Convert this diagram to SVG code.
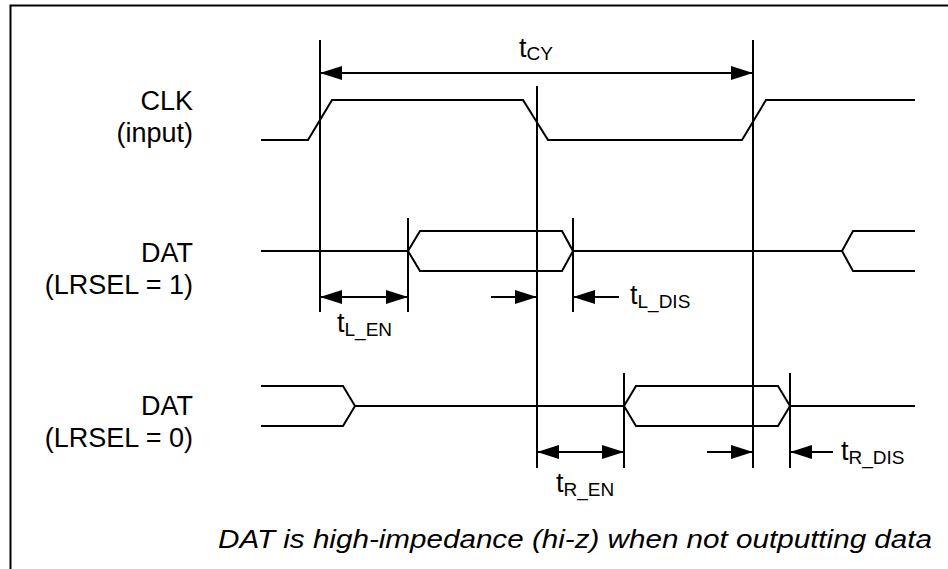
<svg xmlns="http://www.w3.org/2000/svg" width="948" height="569" viewBox="0 0 948 569">
<style>
.w{fill:none;stroke:#000;stroke-width:2;stroke-linejoin:miter}
.v{fill:none;stroke:#000;stroke-width:2}
.a{fill:none;stroke:#000;stroke-width:2}
.lbl{font-family:"Liberation Sans",Arial,sans-serif;font-size:27px;fill:#000;text-anchor:end}
.t{font-family:"Liberation Sans",Arial,sans-serif;font-size:27px;fill:#000}
.s{font-size:19px}
.note{font-family:"Liberation Sans",Arial,sans-serif;font-size:25px;font-style:italic;fill:#000}
</style>
<defs>
<marker id="ah" viewBox="0 0 22 14" refX="22" refY="7" markerWidth="22" markerHeight="14" markerUnits="userSpaceOnUse" orient="auto-start-reverse">
<path d="M0,0 L22,7 L0,14 z" fill="#000"/>
</marker>
</defs>
<rect width="948" height="569" fill="#fff"/>
<path class="v" d="M10.5,569 L10.5,5.5 L948,5.5"/>

<g id="labels">
<g id="clk-label"><text class="lbl" x="193" y="110">CLK</text><text class="lbl" x="193" y="142">(input)</text></g>
<g id="dat1-label"><text class="lbl" x="193" y="262">DAT</text><text class="lbl" x="193" y="294">(LRSEL = 1)</text></g>
<g id="dat0-label"><text class="lbl" x="193" y="415">DAT</text><text class="lbl" x="193" y="447">(LRSEL = 0)</text></g>
</g>

<g id="clk">
<path class="w" d="M261,140 L308,140 L332,100 L523,100 L548,140 L742,140 L766,100 L915,100"/>
</g>
<g id="dat1">
<path class="w" d="M261,251 L408,251 L420,231 L562,231 L573,251 L562,271 L420,271 L408,251 M573,251 L842,251 L853,231 L915,231 M842,251 L853,271 L915,271"/>
</g>
<g id="dat0">
<path class="w" d="M261,386 L343,386 L355,406 L343,426 L261,426 M355,406 L624,406 L636,386 L778,386 L790,406 L778,426 L636,426 L624,406 M790,406 L915,406"/>
</g>

<g id="connectors">
<path class="v" d="M320,40 L320,312 M537,86 L537,468 M753,40 L753,468 M408,218 L408,312 M573,218 L573,312 M624,373 L624,468 M790,373 L790,468"/>
<line class="a" x1="320" y1="73" x2="753" y2="73" marker-start="url(#ah)" marker-end="url(#ah)"/>
<line class="a" x1="320" y1="297" x2="408" y2="297" marker-start="url(#ah)" marker-end="url(#ah)"/>
<line class="a" x1="491" y1="297" x2="537" y2="297" marker-end="url(#ah)"/>
<line class="a" x1="619" y1="297" x2="573" y2="297" marker-end="url(#ah)"/>
<line class="a" x1="537" y1="452" x2="624" y2="452" marker-start="url(#ah)" marker-end="url(#ah)"/>
<line class="a" x1="707" y1="452" x2="753" y2="452" marker-end="url(#ah)"/>
<line class="a" x1="833" y1="452" x2="790" y2="452" marker-end="url(#ah)"/>
</g>

<g id="timing-labels">
<text class="t" x="519" y="57">t<tspan class="s" dy="3">CY</tspan></text>
<text class="t" x="337" y="332">t<tspan class="s" dy="4">L_EN</tspan></text>
<text class="t" x="630" y="304">t<tspan class="s" dy="4">L_DIS</tspan></text>
<text class="t" x="556" y="492">t<tspan class="s" dy="4">R_EN</tspan></text>
<text class="t" x="841" y="460">t<tspan class="s" dy="4">R_DIS</tspan></text>
</g>

<text class="note" x="218" y="548" textLength="714" lengthAdjust="spacingAndGlyphs">DAT is high-impedance (hi-z) when not outputting data</text>
</svg>
